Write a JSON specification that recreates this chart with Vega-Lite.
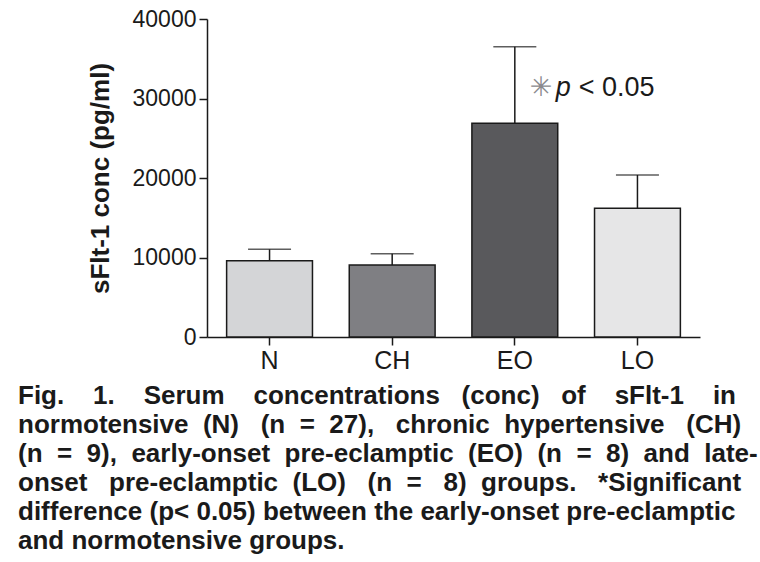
{
  "$schema": "https://vega.github.io/schema/vega-lite/v6.json",
  "width": 493,
  "height": 318,
  "autosize": "none",
  "padding": {"left": 207, "top": 19, "right": 60, "bottom": 225},
  "background": "white",
  "config": {
    "view": {"stroke": null},
    "font": "Liberation Sans"
  },
  "title": {
    "text": [
      "Fig. \u00a0\u00a0\u00a01. \u00a0\u00a0\u00a0Serum \u00a0\u00a0\u00a0concentrations \u00a0\u00a0(conc) \u00a0\u00a0of \u00a0\u00a0\u00a0sFlt-1 \u00a0\u00a0\u00a0in",
      "normotensive \u00a0(N) \u00a0\u00a0(n \u00a0= \u00a027), \u00a0\u00a0chronic \u00a0hypertensive \u00a0\u00a0(CH)",
      "(n \u00a0= \u00a09), \u00a0early-onset \u00a0pre-eclamptic \u00a0(EO) \u00a0(n \u00a0= \u00a08) \u00a0and \u00a0late-",
      "onset \u00a0\u00a0pre-eclamptic \u00a0(LO) \u00a0\u00a0(n \u00a0= \u00a0\u00a08) \u00a0groups. \u00a0\u00a0*Significant",
      "difference (p< 0.05) between the early-onset pre-eclamptic",
      "and normotensive groups."
    ],
    "orient": "bottom",
    "anchor": "start",
    "frame": "group",
    "dx": -189,
    "offset": 10,
    "fontSize": 26,
    "lineHeight": 29,
    "fontWeight": "bold",
    "font": "Liberation Sans",
    "color": "#1a1a1a"
  },
  "data": {
    "values": [
      {"group": "N", "value": 9600, "err": 11030},
      {"group": "CH", "value": 9050, "err": 10480},
      {"group": "EO", "value": 26900, "err": 36500},
      {"group": "LO", "value": 16210, "err": 20380}
    ]
  },
  "encoding": {
    "x": {
      "field": "group",
      "type": "nominal",
      "sort": ["N", "CH", "EO", "LO"],
      "scale": {"paddingInner": 0.3, "paddingOuter": 0.16},
      "axis": {
        "title": null,
        "labelAngle": 0,
        "labelFontSize": 25,
        "labelColor": "#1a1a1a",
        "labelPadding": 3,
        "domainColor": "#1a1a1a",
        "domainWidth": 1.5,
        "tickColor": "#1a1a1a",
        "tickWidth": 1.5,
        "tickSize": 8
      }
    }
  },
  "layer": [
    {
      "mark": {"type": "rule", "color": "#1a1a1a", "strokeWidth": 1.5},
      "encoding": {
        "y": {"field": "value", "type": "quantitative"},
        "y2": {"field": "err"}
      }
    },
    {
      "mark": {"type": "tick", "color": "#1a1a1a", "thickness": 1.5, "size": 43},
      "encoding": {
        "y": {"field": "err", "type": "quantitative"}
      }
    },
    {
      "mark": {"type": "bar", "stroke": "#1a1a1a", "strokeWidth": 1.5},
      "encoding": {
        "y": {
          "field": "value",
          "type": "quantitative",
          "scale": {"domain": [0, 40000], "nice": false},
          "axis": {
            "title": "sFlt-1 conc (pg/ml)",
            "titleFontSize": 26,
            "titleFontWeight": "bold",
            "titleColor": "#1a1a1a",
            "titlePadding": 19,
            "values": [0, 10000, 20000, 30000, 40000],
            "format": "d",
            "grid": false,
            "labelFontSize": 23,
            "labelColor": "#1a1a1a",
            "labelPadding": 3,
            "domainColor": "#1a1a1a",
            "domainWidth": 1.5,
            "tickColor": "#1a1a1a",
            "tickWidth": 1.5,
            "tickSize": 8
          }
        },
        "color": {
          "field": "group",
          "type": "nominal",
          "scale": {"domain": ["N", "CH", "EO", "LO"], "range": ["#d4d5d7", "#7f7f83", "#59595c", "#e6e6e7"]},
          "legend": null
        }
      }
    },
    {
      "data": {"values": [{"group": "EO", "y": 31300, "star": "✳", "p": "p", "lt": "< 0.05"}]},
      "layer": [
        {
          "mark": {"type": "text", "align": "left", "baseline": "middle", "dx": 15, "fontSize": 27, "font": "DejaVu Sans", "fontWeight": "bold", "color": "#8a8a8e"},
          "encoding": {"y": {"field": "y", "type": "quantitative"}, "text": {"field": "star"}}
        },
        {
          "mark": {"type": "text", "align": "left", "baseline": "middle", "dx": 41, "fontSize": 27, "fontStyle": "italic", "color": "#1a1a1a"},
          "encoding": {"y": {"field": "y", "type": "quantitative"}, "text": {"field": "p"}}
        },
        {
          "mark": {"type": "text", "align": "left", "baseline": "middle", "dx": 64, "fontSize": 27, "color": "#1a1a1a"},
          "encoding": {"y": {"field": "y", "type": "quantitative"}, "text": {"field": "lt"}}
        }
      ]
    }
  ]
}
